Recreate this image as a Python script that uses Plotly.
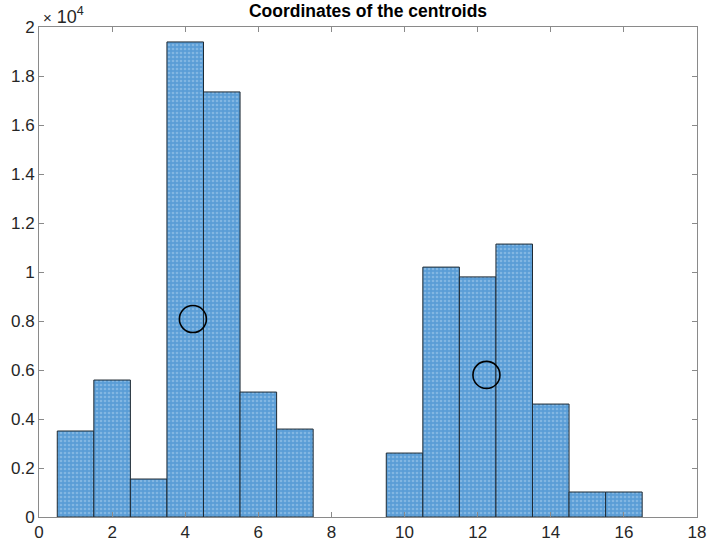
import plotly.graph_objects as go

bin_centers = [1, 2, 3, 4, 5, 6, 7, 8, 9, 10, 11, 12, 13, 14, 15, 16]
counts = [3510, 5590, 1550, 19390, 17350, 5100, 3590, 0, 0, 2610, 10200, 9800, 11140, 4610, 1020, 1020]
centroid_x = [4.21, 12.24]
centroid_y = [8080, 5800]
x_ticks = [0, 2, 4, 6, 8, 10, 12, 14, 16, 18]
y_ticks = [0, 2000, 4000, 6000, 8000, 10000, 12000, 14000, 16000, 18000, 20000]
y_tick_labels = ["0", "0.2", "0.4", "0.6", "0.8", "1", "1.2", "1.4", "1.6", "1.8", "2"]

edge_colors = ["rgba(0,0,0,0)" if c == 0 else "#1f2a33" for c in counts]

fig = go.Figure()
fig.add_trace(go.Bar(
    x=bin_centers, y=counts, width=1,
    marker=dict(color="#5A9DD6", line=dict(color=edge_colors, width=1),
                pattern=dict(shape=".", fgcolor="#A9D0EE", size=4, solidity=0.35)),
    showlegend=False,
))
fig.add_trace(go.Scatter(
    x=centroid_x, y=centroid_y, mode="markers",
    marker=dict(symbol="circle-open", size=27, color="black", line=dict(width=1.6, color="black")),
    showlegend=False,
))
font_family = "Liberation Sans, Arial"
axis_common = dict(showgrid=False, zeroline=False, showline=True, linecolor="#8a8a8a",
                   linewidth=1, mirror="ticks", ticks="inside", ticklen=5, tickcolor="#8a8a8a",
                   automargin=False,
                   tickfont=dict(family=font_family, size=17, color="#262626"))
fig.update_xaxes(range=[0, 18], tickvals=x_ticks, **axis_common)
fig.update_yaxes(range=[0, 20000], tickvals=y_ticks, ticktext=y_tick_labels, **axis_common)
fig.update_layout(
    width=708, height=547,
    margin=dict(l=39, r=11, t=27, b=30),
    paper_bgcolor="white", plot_bgcolor="white",
    title=dict(text="<b>Coordinates of the centroids</b>", x=0.5, xanchor="center",
               xref="paper", y=1 - 11 / 547, yanchor="middle",
               font=dict(family=font_family, size=17.5, color="black")),
    annotations=[dict(text="<span style='font-size:15px'>×</span> 10<sup>4</sup>", xref="paper", yref="paper", x=0, y=1,
                      xanchor="left", yanchor="bottom", showarrow=False, xshift=2, yshift=-2,
                      font=dict(family=font_family, size=18, color="#262626"))],
)
fig.write_html("out.html", config={"displayModeBar": False},
               post_script="document.body.style.margin='0';document.body.style.overflow='hidden';")
